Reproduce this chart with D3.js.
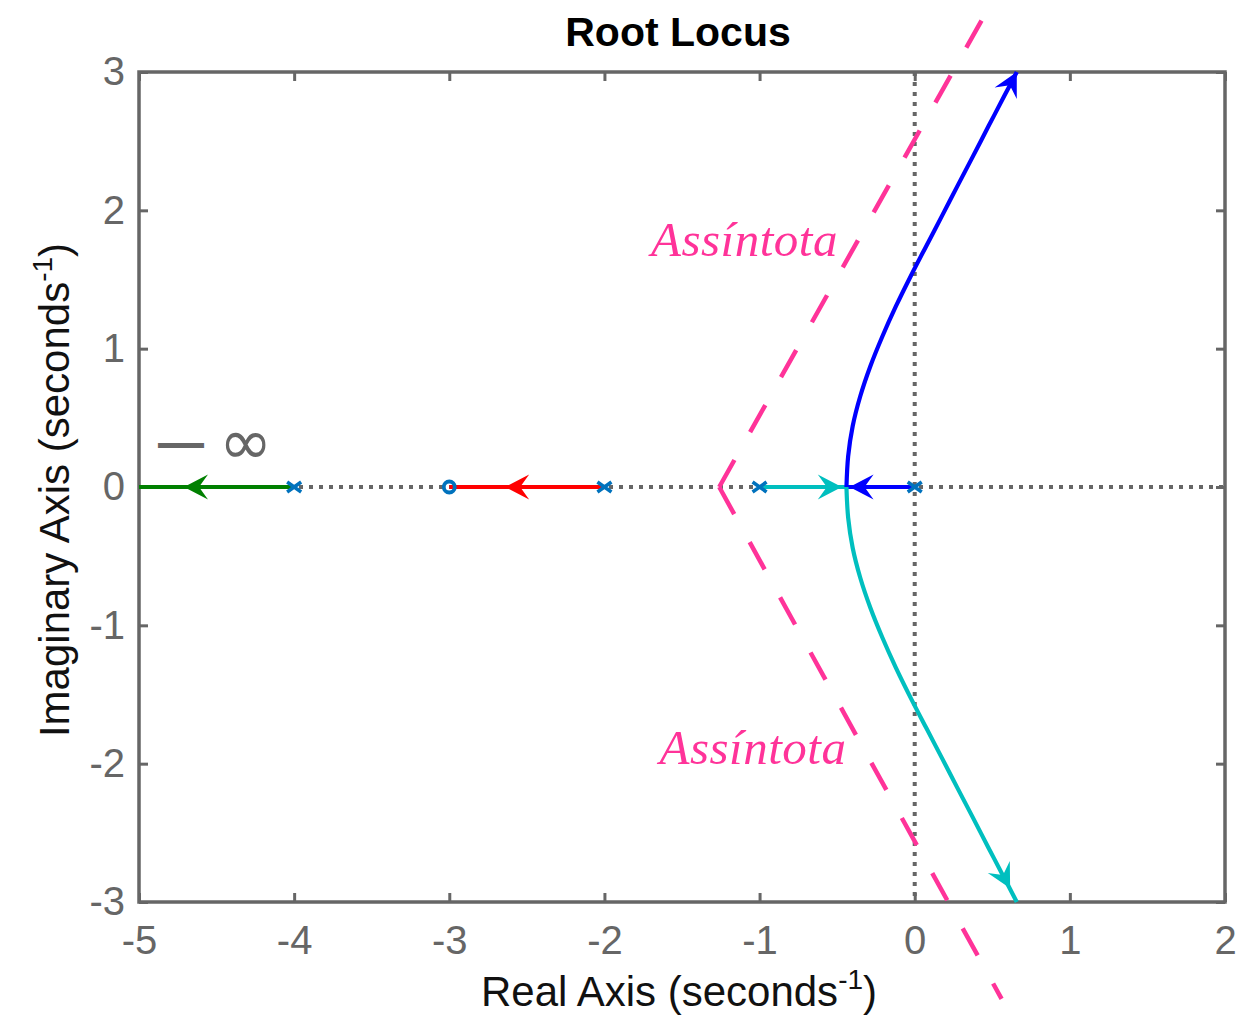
<!DOCTYPE html>
<html>
<head>
<meta charset="utf-8">
<script src="https://cdn.jsdelivr.net/npm/d3@7"></script>
<style>
  body { margin: 0; background: #fff; }
  text { font-family: "Liberation Sans", Arial, sans-serif; }
</style>
</head>
<body>
<div id="chart"></div>
<script>
// ticks
const xTicks = [-5, -4, -3, -2, -1, 0, 1, 2];
const yTicks = [-3, -2, -1, 0, 1, 2, 3];

// open-loop poles and zeros
const poles = [0, -1, -2, -4];
const zeros = [-3];

// branches on the real axis
const greenBranch = [[-5, 0], [-4, 0]];
const redBranch = [[-2, 0], [-3, 0]];
const cyanReal = [[-1, 0], [-0.44, 0]];
const blueReal = [[0, 0], [-0.44, 0]];

// complex branches
const blueUpper = [[-0.440, 0], [-0.429, 0.222], [-0.400, 0.439], [-0.351, 0.656], [-0.286, 0.873],
  [-0.208, 1.090], [-0.121, 1.307], [-0.026, 1.524], [0.074, 1.741], [0.175, 1.958],
  [0.275, 2.175], [0.376, 2.392], [0.476, 2.609], [0.577, 2.826], [0.658, 3.0]];
const cyanLower = [[-0.440, 0], [-0.429, -0.222], [-0.400, -0.439], [-0.351, -0.656], [-0.286, -0.873],
  [-0.208, -1.090], [-0.121, -1.307], [-0.026, -1.524], [0.074, -1.741], [0.175, -1.958],
  [0.275, -2.175], [0.376, -2.392], [0.476, -2.609], [0.577, -2.826], [0.658, -3.0]];

// hand drawn asymptotes
const asymptoteUp = [[-1.26, 0], [0.47, 3.45]];
const asymptoteDown = [[-1.26, 0], [0.56, -3.70]];

// arrow heads: [tip, point behind]
const greenArrow = [[-4.71, 0], [-4.40, 0]];
const redArrow = [[-2.64, 0], [-2.30, 0]];
const cyanArrow = [[-0.47, 0], [-0.80, 0]];
const blueArrow = [[-0.42, 0], [-0.10, 0]];
const blueEndArrow = [[0.658, 3.0], [0.577, 2.826]];
const cyanEndArrow = [[0.615, -2.90], [0.476, -2.609]];

const width = 1253, height = 1019;
const x = d3.scaleLinear().domain([-5, 2]).range([139, 1225]);
const y = d3.scaleLinear().domain([-3, 3]).range([902, 72]);

const svg = d3.select("#chart").append("svg")
  .attr("width", width)
  .attr("height", height);

const axisColor = "#666666";

// axes, MATLAB style, ticks inside
const gx = svg.append("g")
  .attr("transform", `translate(0,${y(-3)})`)
  .call(d3.axisBottom(x).tickValues(xTicks).tickSize(-9).tickSizeOuter(0).tickPadding(24).tickFormat(d => String(d)));
const gxt = svg.append("g")
  .attr("transform", `translate(0,${y(3)})`)
  .call(d3.axisTop(x).tickValues(xTicks).tickSize(-9).tickSizeOuter(0).tickFormat(""));
const gy = svg.append("g")
  .attr("transform", `translate(${x(-5)},0)`)
  .call(d3.axisLeft(y).tickValues(yTicks).tickSize(-9).tickSizeOuter(0).tickPadding(14).tickFormat(d => String(d)));
const gyr = svg.append("g")
  .attr("transform", `translate(${x(2)},0)`)
  .call(d3.axisRight(y).tickValues(yTicks).tickSize(-9).tickSizeOuter(0).tickFormat(""));

[gx, gxt, gy, gyr].forEach(g => {
  g.select(".domain").remove();
  g.selectAll("line").attr("stroke", axisColor).attr("stroke-width", 3);
  g.selectAll("text")
    .attr("fill", axisColor)
    .style("font-size", "40px");
});

svg.append("rect")
  .attr("x", x(-5))
  .attr("y", y(3))
  .attr("width", x(2) - x(-5))
  .attr("height", y(-3) - y(3))
  .attr("fill", "none")
  .attr("stroke", axisColor)
  .attr("stroke-width", 3.5);

// dotted zero lines
svg.append("line")
  .attr("x1", x(-5)).attr("x2", x(2))
  .attr("y1", y(0)).attr("y2", y(0))
  .attr("stroke", axisColor).attr("stroke-width", 4)
  .attr("stroke-dasharray", "4,6");
svg.append("line")
  .attr("x1", x(0)).attr("x2", x(0))
  .attr("y1", y(3)).attr("y2", y(-3))
  .attr("stroke", axisColor).attr("stroke-width", 4)
  .attr("stroke-dasharray", "4,6");

const line = d3.line().x(d => x(d[0])).y(d => y(d[1]));
const smooth = d3.line().x(d => x(d[0])).y(d => y(d[1])).curve(d3.curveCatmullRom.alpha(0.5));

// asymptotes
const pink = "#ff3399";
[asymptoteUp, asymptoteDown].forEach(a => {
  svg.append("path")
    .attr("d", line(a))
    .attr("fill", "none")
    .attr("stroke", pink)
    .attr("stroke-width", 4.5)
    .attr("stroke-dasharray", "31,32");
});

// loci
const lw = 4.2;
const branches = [
  { d: greenBranch, c: "#008000", f: line },
  { d: redBranch, c: "#ff0000", f: line },
  { d: cyanReal, c: "#00bfbf", f: line },
  { d: blueReal, c: "#0000ff", f: line },
  { d: cyanLower, c: "#00bfbf", f: smooth },
  { d: blueUpper, c: "#0000ff", f: smooth }
];
branches.forEach(b => {
  svg.append("path")
    .attr("d", b.f(b.d))
    .attr("fill", "none")
    .attr("stroke", b.c)
    .attr("stroke-width", lw)
    .attr("stroke-linejoin", "round");
});

// arrow heads
const heads = [
  { a: greenArrow, c: "#008000" },
  { a: redArrow, c: "#ff0000" },
  { a: cyanArrow, c: "#00bfbf" },
  { a: blueArrow, c: "#0000ff" },
  { a: blueEndArrow, c: "#0000ff" },
  { a: cyanEndArrow, c: "#00bfbf" }
];
heads.forEach(h => {
  const tx = x(h.a[0][0]), ty = y(h.a[0][1]);
  const fx = x(h.a[1][0]), fy = y(h.a[1][1]);
  const ang = Math.atan2(ty - fy, tx - fx) * 180 / Math.PI;
  svg.append("path")
    .attr("d", "M0,0 L-24,-12.5 L-15,0 L-24,12.5 Z")
    .attr("transform", `translate(${tx},${ty}) rotate(${ang})`)
    .attr("fill", h.c);
});

// pole and zero markers
const markColor = "#0072bd";
svg.selectAll(".pole")
  .data(poles)
  .enter().append("path")
  .attr("class", "pole")
  .attr("d", "M-7,-5 L7,5 M-7,5 L7,-5")
  .attr("transform", d => `translate(${x(d)},${y(0)})`)
  .attr("stroke", markColor)
  .attr("stroke-width", 3.5)
  .attr("fill", "none");
svg.selectAll(".zero")
  .data(zeros)
  .enter().append("circle")
  .attr("class", "zero")
  .attr("cx", d => x(d))
  .attr("cy", y(0))
  .attr("r", 5.5)
  .attr("stroke", markColor)
  .attr("stroke-width", 3.8)
  .attr("fill", "none");

// annotations
[[-1.70, 1.67], [-1.645, -2.0]].forEach(p => {
  svg.append("text")
    .attr("x", x(p[0]))
    .attr("y", y(p[1]))
    .attr("fill", pink)
    .style("font-family", "'Liberation Serif', 'DejaVu Serif', serif")
    .style("font-style", "italic")
    .style("font-size", "49px")
    .style("letter-spacing", "0.5px")
    .text("Assíntota");
});

svg.append("text")
  .attr("x", 159)
  .attr("y", 457)
  .attr("fill", axisColor)
  .attr("stroke", axisColor)
  .attr("stroke-width", 2)
  .style("font-size", "44px")
  .text("\u2014");
svg.append("text")
  .attr("x", 219)
  .attr("y", 464)
  .attr("fill", axisColor)
  .style("font-family", "'DejaVu Sans', sans-serif")
  .style("font-size", "64px")
  .text("\u221e");

// title and axis labels
svg.append("text")
  .attr("x", 678)
  .attr("y", 46)
  .attr("text-anchor", "middle")
  .attr("fill", "#000")
  .style("font-size", "41px")
  .style("font-weight", "bold")
  .text("Root Locus");

const xl = svg.append("text")
  .attr("x", 679)
  .attr("y", 1006)
  .attr("text-anchor", "middle")
  .attr("fill", "#111")
  .style("font-size", "42px");
xl.append("tspan").text("Real Axis (seconds");
xl.append("tspan").attr("dy", -17).style("font-size", "28px").text("-1");
xl.append("tspan").attr("dy", 17).text(")");

const yl = svg.append("text")
  .attr("transform", `translate(69,490) rotate(-90)`)
  .attr("text-anchor", "middle")
  .attr("fill", "#111")
  .style("font-size", "42px");
yl.append("tspan").text("Imaginary Axis (seconds");
yl.append("tspan").attr("dy", -17).style("font-size", "28px").text("-1");
yl.append("tspan").attr("dy", 17).text(")");
</script>
</body>
</html>
